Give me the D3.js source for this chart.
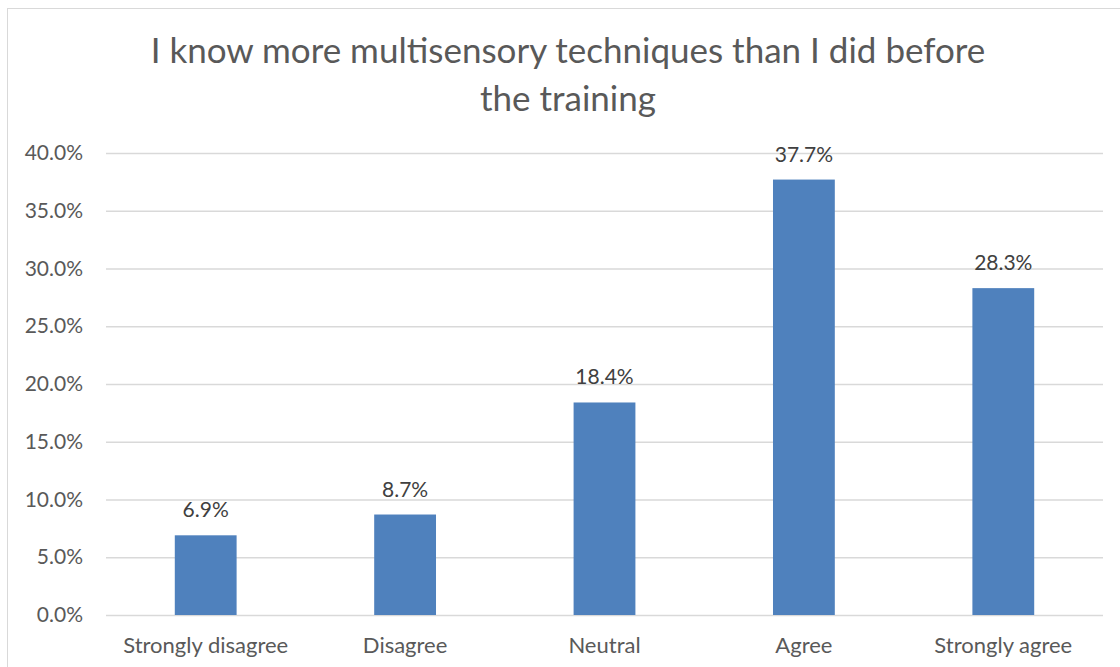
<!DOCTYPE html>
<html>
<head>
<meta charset="utf-8">
<script src="https://cdn.jsdelivr.net/npm/d3@7"></script>
<style>
  html, body { margin: 0; padding: 0; background: #fff; overflow: hidden; }
  text { font-family: Lato, "Open Sans", sans-serif; }
</style>
</head>
<body>
<div id="canvas"></div>
<script>
let categories = ["Strongly disagree", "Disagree", "Neutral", "Agree", "Strongly agree"];
let values = [0.069, 0.087, 0.184, 0.377, 0.283];
let yTicks = [0, 0.05, 0.1, 0.15, 0.2, 0.25, 0.3, 0.35, 0.4];
let titleLines = ["I know more multisensory techniques than I did before", "the training"];

let width = 1120, height = 667;

let svg = d3
  .select("#canvas")
  .append("svg")
  .attr("width", width)
  .attr("height", height);

// chart area border (runs off right/bottom edge like the screenshot)
svg.append("rect")
  .attr("x", 7.5).attr("y", 8.5)
  .attr("width", width + 20).attr("height", height + 20)
  .attr("fill", "#fff")
  .attr("stroke", "#d9d9d9");

let plot = { left: 106, right: 1103, top: 153, bottom: 615 };

let x = d3.scaleBand().domain(categories).range([plot.left, plot.right]);
let y = d3.scaleLinear().domain([0, 0.4]).range([plot.bottom, plot.top]);
let fmt = d3.format(".1%");

// gridlines + y labels
let yAxis = d3.axisLeft(y).tickValues(yTicks).tickFormat(fmt)
  .tickSize(-(plot.right - plot.left)).tickPadding(23);
let gy = svg.append("g").attr("transform", `translate(${plot.left},0)`).call(yAxis);
gy.select(".domain").remove();
gy.selectAll(".tick line").attr("stroke", "#d9d9d9").attr("stroke-width", 1.3);
gy.selectAll(".tick text")
  .attr("fill", "#595959")
  .style("font-size", "21px");

// bars
let barW = x.bandwidth() * 0.31;
svg.append("g")
  .selectAll("rect")
  .data(values)
  .join("rect")
  .attr("x", (d, i) => x(categories[i]) + x.bandwidth() / 2 - barW / 2)
  .attr("y", (d) => y(d))
  .attr("width", barW)
  .attr("height", (d) => y(0) - y(d))
  .attr("fill", "#4f81bd");

// value labels
svg.append("g")
  .selectAll("text")
  .data(values)
  .join("text")
  .attr("x", (d, i) => x(categories[i]) + x.bandwidth() / 2)
  .attr("y", (d) => y(d) - 18)
  .attr("text-anchor", "middle")
  .attr("fill", "#404040")
  .style("font-size", "21px")
  .text((d) => fmt(d));

// x labels
let xAxis = d3.axisBottom(x).tickSize(0).tickPadding(22);
let gx = svg.append("g").attr("transform", `translate(0,${plot.bottom})`).call(xAxis);
gx.select(".domain").remove();
gx.selectAll(".tick text")
  .attr("fill", "#595959")
  .style("font-size", "22px");

// title
svg.append("g")
  .selectAll("text")
  .data(titleLines)
  .join("text")
  .attr("x", 568)
  .attr("y", (d, i) => 63 + i * 48)
  .attr("text-anchor", "middle")
  .attr("fill", "#595959")
  .style("font-size", "35px")
  .text((d) => d);
</script>
</body>
</html>
